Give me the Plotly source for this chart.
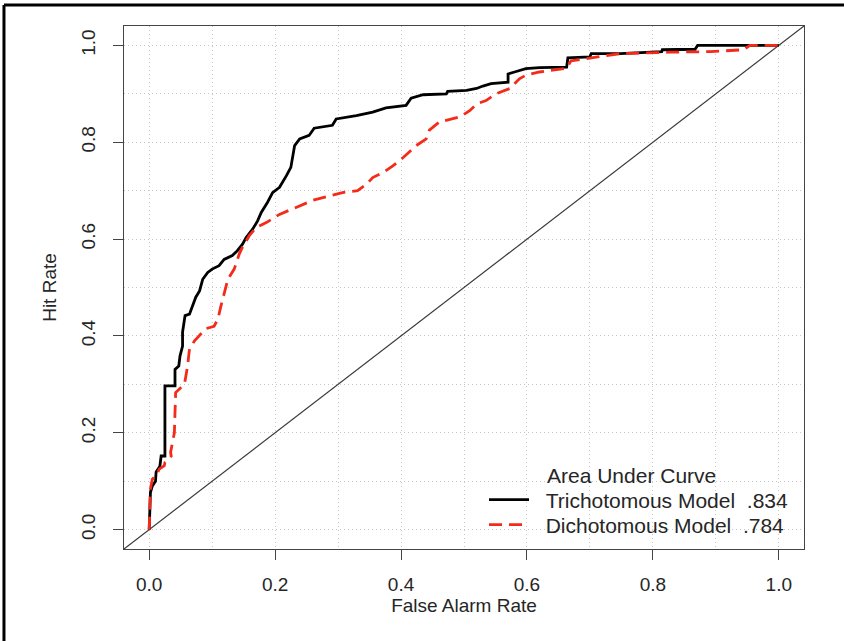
import plotly.graph_objects as go

# Trichotomous model ROC (black solid)
tri_far = [0.0, 0.002, 0.005, 0.01, 0.011, 0.017, 0.019, 0.025, 0.025, 0.041, 0.041, 0.047, 0.049,
           0.053, 0.053, 0.057, 0.064, 0.069, 0.074, 0.080, 0.085, 0.093, 0.100, 0.111, 0.119,
           0.132, 0.140, 0.148, 0.154, 0.164, 0.172, 0.178, 0.188, 0.196, 0.207, 0.218, 0.225,
           0.231, 0.239, 0.254, 0.262, 0.291, 0.297, 0.329, 0.355, 0.376, 0.408, 0.416, 0.435,
           0.472, 0.474, 0.504, 0.520, 0.530, 0.543, 0.570, 0.570, 0.583, 0.598, 0.620, 0.663,
           0.665, 0.700, 0.702, 0.748, 0.814, 0.815, 0.867, 0.871, 1.0]
tri_hit = [0.0, 0.077, 0.090, 0.100, 0.119, 0.131, 0.152, 0.152, 0.297, 0.297, 0.331, 0.338, 0.359,
           0.379, 0.408, 0.442, 0.445, 0.462, 0.480, 0.493, 0.517, 0.531, 0.538, 0.545, 0.558,
           0.566, 0.576, 0.589, 0.603, 0.620, 0.637, 0.655, 0.676, 0.696, 0.707, 0.731, 0.748,
           0.793, 0.807, 0.814, 0.829, 0.835, 0.848, 0.855, 0.862, 0.871, 0.876, 0.891, 0.898,
           0.900, 0.905, 0.907, 0.911, 0.916, 0.921, 0.924, 0.941, 0.946, 0.952, 0.954, 0.955,
           0.974, 0.976, 0.983, 0.983, 0.987, 0.991, 0.992, 1.0, 1.0]

# Dichotomous model ROC (red dashed)
dic_far = [0.0, 0.002, 0.005, 0.011, 0.016, 0.024, 0.025, 0.035, 0.034, 0.040, 0.042, 0.048, 0.056,
           0.061, 0.064, 0.072, 0.082, 0.090, 0.103, 0.109, 0.114, 0.119, 0.125, 0.135, 0.143,
           0.148, 0.159, 0.170, 0.186, 0.207, 0.233, 0.260, 0.286, 0.307, 0.331, 0.345, 0.355,
           0.371, 0.387, 0.403, 0.424, 0.440, 0.445, 0.461, 0.493, 0.509, 0.520, 0.535, 0.551,
           0.573, 0.588, 0.599, 0.620, 0.663, 0.670, 0.694, 0.726, 0.748, 0.806, 0.827, 0.891,
           0.944, 0.954, 1.0]
dic_hit = [0.0, 0.084, 0.104, 0.112, 0.125, 0.132, 0.139, 0.152, 0.160, 0.200, 0.283, 0.290, 0.300,
           0.338, 0.373, 0.390, 0.403, 0.415, 0.420, 0.434, 0.462, 0.490, 0.517, 0.538, 0.569,
           0.583, 0.607, 0.624, 0.634, 0.651, 0.665, 0.680, 0.689, 0.696, 0.700, 0.713, 0.727,
           0.737, 0.751, 0.768, 0.793, 0.807, 0.825, 0.842, 0.852, 0.865, 0.879, 0.886, 0.900,
           0.911, 0.931, 0.939, 0.945, 0.953, 0.968, 0.973, 0.980, 0.983, 0.985, 0.986, 0.987,
           0.991, 1.0, 1.0]

series_names = ["Trichotomous Model  .834", "Dichotomous Model  .784"]
legend_title = "Area Under Curve"
x_title = "False Alarm Rate"
y_title = "Hit Rate"
tick_vals = [0.0, 0.2, 0.4, 0.6, 0.8, 1.0]
axis_range = [-0.04, 1.04]

FONT = "Liberation Sans, Arial, Helvetica, sans-serif"
TXT = "#262626"
NB = "\u00a0\u00a0"

fig = go.Figure()

# chance diagonal spanning the whole plotting region (abline 0,1)
fig.add_trace(go.Scatter(x=axis_range, y=axis_range, mode="lines",
                         line=dict(color="#3a3a3a", width=1.2), showlegend=False,
                         hoverinfo="skip"))

fig.add_trace(go.Scatter(x=tri_far, y=tri_hit, mode="lines", name=NB + series_names[0],
                         line=dict(color="black", width=2.8), legend="legend"))
fig.add_trace(go.Scatter(x=dic_far, y=dic_hit, mode="lines", name=NB + series_names[1],
                         line=dict(color="#f42a1a", width=2.8, dash="13px,7px"), legend="legend2"))

grid_common = dict(showgrid=True, gridcolor="#c8c8c8", gridwidth=1, griddash="1px,3px")
minor_common = dict(dtick=0.1, tick0=0, showgrid=True, gridcolor="#c8c8c8",
                    griddash="1px,3px", ticks="")

fig.update_xaxes(range=axis_range, tickvals=tick_vals, tickformat=".1f",
                 ticks="outside", ticklen=10, tickcolor="#444", tickwidth=1,
                 showline=True, linecolor="#444", linewidth=1, mirror=True,
                 zeroline=False, ticklabelstandoff=8, minor=minor_common,
                 tickfont=dict(size=19, color=TXT, family=FONT),
                 title=dict(text=x_title, font=dict(size=19, color=TXT, family=FONT), standoff=4),
                 **grid_common)
fig.update_yaxes(range=axis_range, tickvals=tick_vals, tickformat=".1f",
                 ticks="outside", ticklen=10, tickcolor="#444", tickwidth=1,
                 showline=True, linecolor="#444", linewidth=1, mirror=True,
                 zeroline=False, tickangle=-90, ticklabelstandoff=10, minor=minor_common,
                 tickfont=dict(size=19, color=TXT, family=FONT),
                 title=dict(text=y_title, font=dict(size=19, color=TXT, family=FONT), standoff=16),
                 **grid_common)

# outer frame (left and top edges visible)
fig.add_shape(type="line", xref="paper", yref="paper", x0=-0.1765, x1=-0.1765, y0=-0.3, y1=1.0402,
              line=dict(color="black", width=3))
fig.add_shape(type="line", xref="paper", yref="paper", x0=-0.1765, x1=1.2, y0=1.0402, y1=1.0402,
              line=dict(color="black", width=3))

fig.add_annotation(text=legend_title, xref="paper", yref="paper", x=(545 - 124) / 680,
                   y=(549 - 475) / 523, xanchor="left", yanchor="middle", showarrow=False,
                   font=dict(size=21, color=TXT, family=FONT))

leg_common = dict(xanchor="left", yanchor="middle", bgcolor="rgba(0,0,0,0)",
                  font=dict(size=21, color=TXT, family=FONT), itemwidth=40)
fig.update_layout(
    width=844, height=641,
    margin=dict(l=124, r=40, t=26, b=92),
    paper_bgcolor="white", plot_bgcolor="white",
    font=dict(family=FONT, color=TXT),
    legend=dict(x=(484 - 124) / 680, y=(549 - 500) / 523, **leg_common),
    legend2=dict(x=(484 - 124) / 680, y=(549 - 525) / 523, **leg_common),
)

fig.write_html("out.html", config={"displayModeBar": False},
               post_script="document.body.style.margin='0px';document.body.style.overflow='hidden';")
